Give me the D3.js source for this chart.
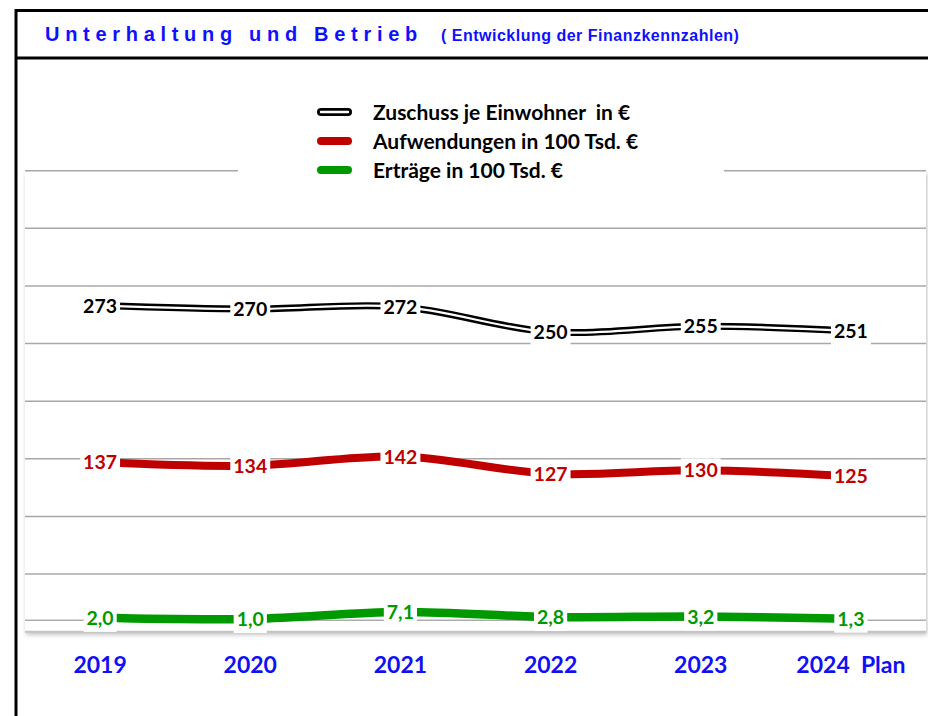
<!DOCTYPE html>
<html>
<head>
<meta charset="utf-8">
<script src="https://cdn.jsdelivr.net/npm/d3@7"></script>
<style>
  body { margin: 0; background: #fff; }
  svg text { white-space: pre; }
</style>
</head>
<body>
<div id="chart"></div>
<script>
// chart data
var years = ["2019", "2020", "2021", "2022", "2023", "2024  Plan"];
var zuschuss = [273, 270, 272, 250, 255, 251];
var aufwendungen = [137, 134, 142, 127, 130, 125];
var ertraege = [2.0, 1.0, 7.1, 2.8, 3.2, 1.3];
var yTicks = [-10, 40, 90, 140, 190, 240, 290, 340, 390];
var legendLabels = ["Zuschuss je Einwohner  in €", "Aufwendungen in 100 Tsd. €", "Erträge in 100 Tsd. €"];

var W = 928, H = 716;
var plot = { left: 25, right: 926, top: 170.7, bottom: 631.7 };
var labelFont = "Lato, 'Open Sans', sans-serif";

var svg = d3.select("#chart")
    .append("svg")
        .attr("width", W)
        .attr("height", H);

var defs = svg.append("defs");
var shadow = defs.append("filter").attr("id", "shadow")
    .attr("x", "-5%").attr("y", "-5%").attr("width", "110%").attr("height", "115%");
shadow.append("feDropShadow")
    .attr("dx", 1).attr("dy", 3).attr("stdDeviation", 2)
    .attr("flood-color", "#000").attr("flood-opacity", 0.25);

// scales
var x = d3.scalePoint()
    .domain(years)
    .range([plot.left, plot.right])
    .padding(0.5);

var y = d3.scaleLinear()
    .domain([-10, 390])
    .range([plot.bottom, plot.top]);

// frame
svg.append("line").attr("x1", 16).attr("x2", W).attr("y1", 10.5).attr("y2", 10.5)
    .attr("stroke", "#000").attr("stroke-width", 3);
svg.append("line").attr("x1", 16).attr("x2", W).attr("y1", 58).attr("y2", 58)
    .attr("stroke", "#000").attr("stroke-width", 3);
svg.append("line").attr("x1", 16).attr("x2", 16).attr("y1", 9).attr("y2", H)
    .attr("stroke", "#000").attr("stroke-width", 3);

// title
var title = svg.append("text")
    .attr("x", 45).attr("y", 41)
    .style("font-family", "'Liberation Sans', Arial, sans-serif")
    .style("font-weight", "bold")
    .style("fill", "#1010ff");
title.append("tspan")
    .style("font-size", "20px")
    .style("letter-spacing", "5.7px")
    .text("Unterhaltung und Betrieb");
title.append("tspan")
    .attr("x", 441)
    .style("font-size", "16px")
    .style("letter-spacing", "0.5px")
    .text("( Entwicklung der Finanzkennzahlen)");

// plot area
svg.append("rect")
    .attr("x", plot.left).attr("y", plot.top)
    .attr("width", plot.right - plot.left).attr("height", plot.bottom - plot.top)
    .attr("fill", "#fff")
    .attr("filter", "url(#shadow)");

// gridlines
svg.append("g")
    .selectAll("line")
    .data(yTicks)
    .enter()
    .append("line")
        .attr("x1", plot.left).attr("x2", plot.right)
        .attr("y1", d => y(d)).attr("y2", d => y(d))
        .attr("stroke", d => d === -10 ? "#c4c4c4" : "#a8a8a8")
        .attr("stroke-width", d => d === -10 ? 2 : 1.5);

// zero line
svg.append("line")
    .attr("x1", plot.left).attr("x2", plot.right)
    .attr("y1", y(0)).attr("y2", y(0))
    .attr("stroke", "#858585").attr("stroke-width", 1);

// x axis labels
svg.append("g")
    .selectAll("text")
    .data(years)
    .enter()
    .append("text")
        .attr("x", d => x(d))
        .attr("y", 673)
        .attr("text-anchor", "middle")
        .style("font-family", labelFont)
        .style("font-weight", "bold")
        .style("font-size", "23px")
        .style("fill", "#1010f4")
        .text(d => d);

var curve = d3.curveCardinal.tension(0);
var line = d3.line()
    .x((d, i) => x(years[i]))
    .y(d => y(d))
    .curve(curve);

// series
svg.append("path").datum(zuschuss)
    .attr("d", line).attr("fill", "none")
    .attr("stroke", "#000").attr("stroke-width", 7);
svg.append("path").datum(zuschuss)
    .attr("d", line).attr("fill", "none")
    .attr("stroke", "#fff").attr("stroke-width", 2.2);
svg.append("path").datum(aufwendungen)
    .attr("d", line).attr("fill", "none")
    .attr("stroke", "#c00000").attr("stroke-width", 8);
svg.append("path").datum(ertraege)
    .attr("d", line).attr("fill", "none")
    .attr("stroke", "#009900").attr("stroke-width", 8.5);

// data labels with white background
var comma = v => d3.format(".1f")(v).replace(".", ",");
const drawLabels = (values, color, fmt) => {
    var g = svg.append("g");
    values.forEach((v, i) => {
        var lg = g.append("g");
        var t = lg.append("text")
            .attr("x", x(years[i]))
            .attr("y", y(v))
            .attr("dy", "0.36em")
            .attr("text-anchor", "middle")
            .style("font-family", labelFont)
            .style("font-weight", "bold")
            .style("font-size", "19.5px")
            .style("fill", color)
            .text(fmt(v));
        var b = t.node().getBBox();
        lg.insert("rect", "text")
            .attr("x", b.x - 3).attr("y", y(v) - 12)
            .attr("width", b.width + 6).attr("height", 26)
            .attr("fill", "#fff");
    });
};
drawLabels(zuschuss, "#000", d3.format("d"));
drawLabels(aufwendungen, "#c00000", d3.format("d"));
drawLabels(ertraege, "#009900", comma);

// legend
var legend = svg.append("g");
legend.append("rect")
    .attr("x", 238).attr("y", 92).attr("width", 486).attr("height", 92)
    .attr("fill", "#fff");
var legendColors = ["#000", "#c00000", "#009900"];
legendLabels.forEach((label, i) => {
    var ly = 112 + i * 29;
    legend.append("line")
        .attr("x1", 321).attr("x2", 348).attr("y1", ly).attr("y2", ly)
        .attr("stroke", legendColors[i]).attr("stroke-width", 8)
        .attr("stroke-linecap", "round");
    if (i === 0) {
        legend.append("line")
            .attr("x1", 321).attr("x2", 348).attr("y1", ly).attr("y2", ly)
            .attr("stroke", "#fff").attr("stroke-width", 2.5)
            .attr("stroke-linecap", "round");
    }
    legend.append("text")
        .attr("x", 373).attr("y", ly)
        .attr("dy", "0.36em")
        .style("font-family", labelFont)
        .style("font-weight", "bold")
        .style("font-size", "21px")
        .style("fill", "#000")
        .text(label);
});
</script>
</body>
</html>
